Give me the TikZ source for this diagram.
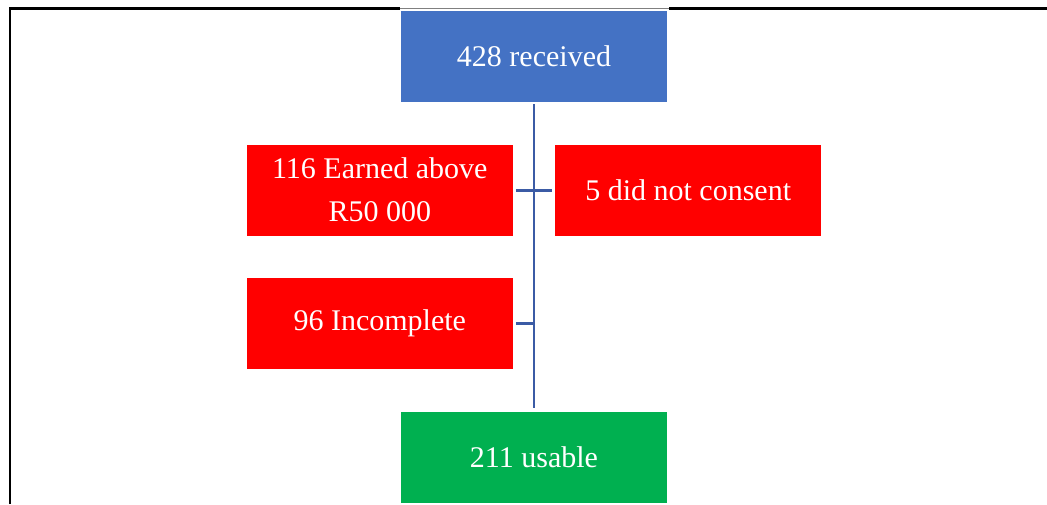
\documentclass[tikz,border=0pt]{standalone}
\usepackage{fontspec}
\setmainfont{Liberation Serif}
\usepackage{xcolor}
\usepackage{tikz}
\usetikzlibrary{
  positioning,
  calc
}
\definecolor{recblue}{RGB}{68,114,196}
\definecolor{outred}{RGB}{255,0,0}
\definecolor{okgreen}{RGB}{0,176,80}
\definecolor{spineblue}{RGB}{59,91,165}

\begin{document}
\begin{tikzpicture}[x=1pt, y=1pt,
  stagebox/.style={minimum width=266pt, minimum height=91pt, inner sep=0pt,
    text=white, align=center, font=\fontsize{30}{43}\selectfont},
  spine/.style={draw=spineblue, line width=2.8pt}]
\useasboundingbox (0,0) rectangle (1047,-504);
% frame
\draw[line width=2.7pt] (10,-504) -- (10,-8.7) -- (400,-8.7);
\draw[line width=2.7pt] (669,-8.7) -- (1047,-8.7);
\draw[gray, line width=0.8pt] (400,-8) -- (669,-8);

\node[stagebox, fill=recblue] (rec) at (534,-56.5) {428 received};
\coordinate[below=88pt of rec.south] (j1);
\node[stagebox, fill=outred, left=21pt of j1] (earned) {116 Earned above\\R50 000};
\node[stagebox, fill=outred, right=21pt of j1] (consent) {5 did not consent};
\node[stagebox, fill=outred, below=42pt of earned] (incompl) {96 Incomplete};
\coordinate (j2) at (rec.south |- incompl.east);
\coordinate (j3) at (incompl.south -| rec.south);
\node[stagebox, fill=okgreen, below=42pt of j3] (usable) {211 usable};

\draw[spine, shorten <=2pt, shorten >=3pt] (rec) -- (usable);
\draw[spine, shorten <=3pt, shorten >=3pt] (earned) -- (consent);
\draw[spine, shorten <=3pt] (incompl) -- (j2);
\end{tikzpicture}
\end{document}
